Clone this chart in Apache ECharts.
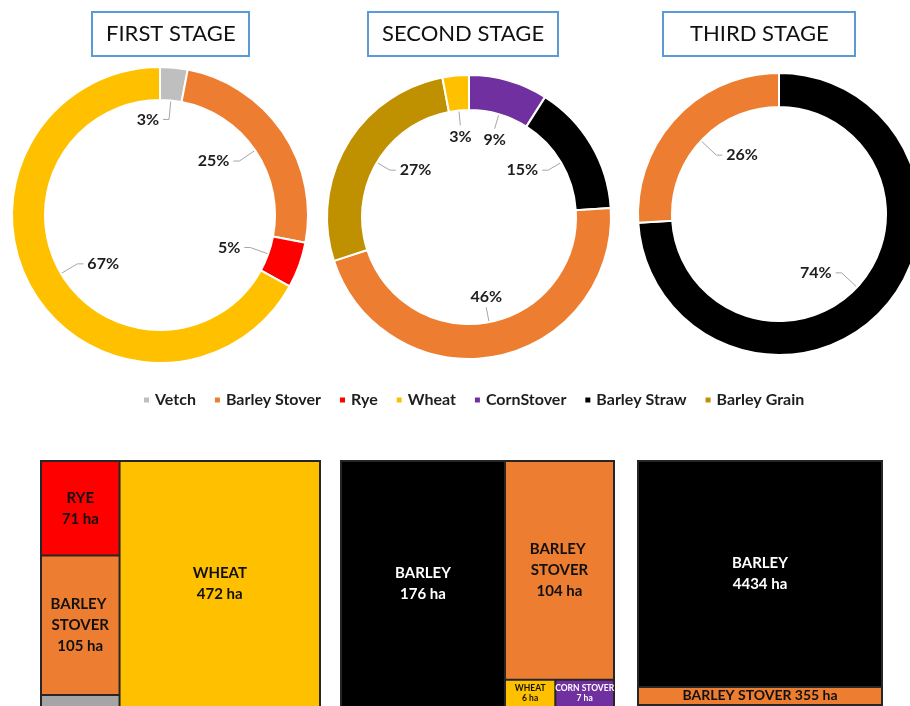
<!DOCTYPE html>
<html><head><meta charset="utf-8">
<script src="https://cdn.jsdelivr.net/npm/echarts@6/dist/echarts.min.js"></script>
<style>html,body{margin:0;padding:0;background:#fff}#c{width:910px;height:706px}</style>
</head><body><div id="c"></div>
<script>
// ---- data ----
const stageTitles = ['FIRST STAGE', 'SECOND STAGE', 'THIRD STAGE'];
const legendNames = ['Vetch', 'Barley Stover', 'Rye', 'Wheat', 'CornStover', 'Barley Straw', 'Barley Grain'];
const stage1Names = ['Vetch', 'Barley Stover', 'Rye', 'Wheat'];
const stage1Pct = [3, 25, 5, 67];
const stage2Names = ['CornStover', 'Barley Straw', 'Barley Stover', 'Barley Grain', 'Wheat'];
const stage2Pct = [9, 15, 46, 27, 3];
const stage3Names = ['Barley Straw', 'Barley Stover'];
const stage3Pct = [74, 26];
const area1Names = ['RYE', 'BARLEY STOVER', 'VETCH', 'WHEAT'];
const area1Ha = [71, 105, 9, 472];
const area2Names = ['BARLEY', 'BARLEY STOVER', 'WHEAT', 'CORN STOVER'];
const area2Ha = [176, 104, 6, 7];
const area3Names = ['BARLEY', 'BARLEY STOVER'];
const area3Ha = [4434, 355];

// ---- styles ----
const colors = {'Vetch':'#BFBFBF','Barley Stover':'#ED7D31','Rye':'#FF0000','Wheat':'#FFC000','CornStover':'#7030A0','Barley Straw':'#000000','Barley Grain':'#BF9000'};
const cellColors = {'RYE':'#FF0000','BARLEY STOVER':'#ED7D31','VETCH':'#A5A5A5','WHEAT':'#FFC000','BARLEY':'#000000','CORN STOVER':'#7030A0'};
const cellText = {'BARLEY':'#ffffff','CORN STOVER':'#ffffff'};
const FONT = 'Lato';

function pie(names, vals, center, radius, len, verticalUnder) {
  return {
    type: 'pie', center: center, radius: radius, startAngle: 90, clockwise: true,
    avoidLabelOverlap: false, animation: false, silent: true,
    itemStyle: {borderColor: '#fff', borderWidth: 2},
    label: {show: true, position: 'outside', formatter: '{c}%', fontFamily: FONT, fontWeight: 'bold',
      fontSize: 16, color: '#1e1e1e', distanceToLabelLine: -4},
    labelLine: {show: true, length: len, length2: -6, minTurnAngle: 0, maxSurfaceAngle: 0,
      lineStyle: {color: '#A6A6A6', width: 1}},
    labelLayout: function (p) {
      const pts = p.labelLinePoints;
      if (verticalUnder && pts) {
        const ddx = pts[1][0] - pts[0][0], ddy = pts[1][1] - pts[0][1];
        if (Math.abs(ddx) < 0.35 * Math.abs(ddy)) {
          return {x: pts[1][0], y: pts[1][1] + (ddy > 0 ? 11 : -11), align: 'center',
            verticalAlign: 'middle', labelLinePoints: [pts[0], pts[1], pts[1]]};
        }
      }
      return {align: p.align === 'left' ? 'right' : 'left'};
    },
    data: names.map((n, i) => ({name: n, value: vals[i], itemStyle: {color: colors[n]}}))
  };
}

function tree(names, vals, box, ratio, oneLine, small) {
  oneLine = oneLine || [];
  small = small || [];
  return {
    type: 'treemap', left: box[0], top: box[1], width: box[2], height: box[3],
    squareRatio: ratio, sort: false, roam: false, nodeClick: false,
    breadcrumb: {show: false}, animation: false, silent: true,
    emphasis: {disabled: true},
    itemStyle: {borderColor: '#262626', borderWidth: 1, gapWidth: 0},
    upperLabel: {show: false},
    label: {show: true, position: 'inside',
      formatter: function (p) {
        if (oneLine.indexOf(p.name) >= 0) return p.name + ' ' + p.value + ' ha';
        return p.name + '\n' + p.value + ' ha';
      },
      fontFamily: FONT, fontWeight: 'bold', fontSize: 15, lineHeight: 21, overflow: 'break'},
    data: names.map((n, i) => {
      const lab = {color: cellText[n] || '#111'};
      if (oneLine.indexOf(n) >= 0) Object.assign(lab, {lineHeight: 14, fontSize: 14, padding: 0, lineOverflow: 'none', overflow: 'none'});
      if (small.indexOf(n) >= 0) Object.assign(lab, {lineHeight: 10, fontSize: 8.5, padding: 0, overflow: 'none', lineOverflow: 'none'});
      return {name: n, value: vals[i], itemStyle: {color: cellColors[n]}, label: lab};
    })
  };
}

const titleLeft = [92, 368, 663];
const titlePad = [[8, 14], [8, 14], [8, 27]];

const option = {
  backgroundColor: '#ffffff',
  animation: false,
  title: stageTitles.map((t, i) => ({
    text: t, left: titleLeft[i], top: 12, padding: titlePad[i],
    borderColor: '#5B9BD5', borderWidth: 2, backgroundColor: '#fff',
    textStyle: {fontFamily: FONT, fontSize: 22, fontWeight: 'normal', color: '#111', lineHeight: 28}
  })),
  legend: {
    data: legendNames, left: 137, top: 387, icon: 'rect', itemWidth: 7, itemHeight: 7,
    itemGap: 17, selectedMode: false,
    textStyle: {fontFamily: FONT, fontWeight: 'bold', fontSize: 16, color: '#1e1e1e'}
  },
  series: [
    pie(stage1Names, stage1Pct, [160, 215], [115, 148], -52, false),
    pie(stage2Names, stage2Pct, [469, 217], [107, 142], -50, true),
    pie(stage3Names, stage3Pct, [779, 214], [107, 141], -55, false),
    tree(area1Names, area1Ha, [40, 460, 281, 248], 2.5),
    tree(area2Names, area2Ha, [340, 460, 275, 248], 1, [], ['WHEAT', 'CORN STOVER']),
    tree(area3Names, area3Ha, [637, 460, 246, 246], 1, ['BARLEY STOVER'])
  ]
};

const chart = echarts.init(document.getElementById('c'), null, {renderer: 'canvas'});
chart.setOption(option);
</script>
</body></html>
